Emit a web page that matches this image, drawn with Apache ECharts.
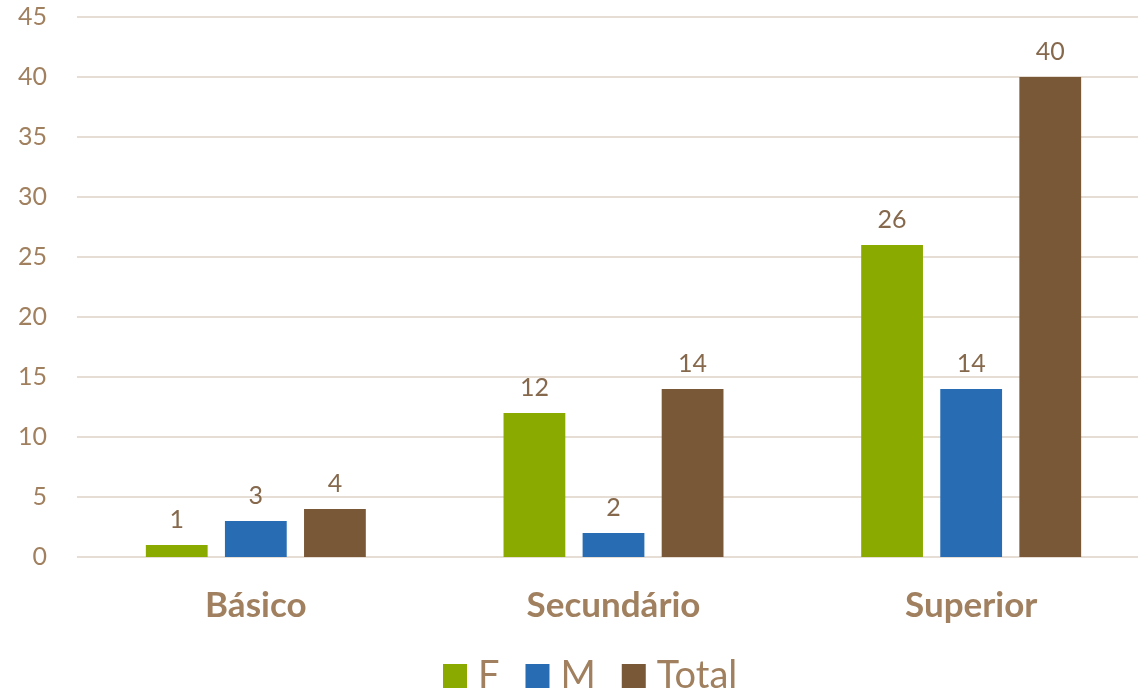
<!DOCTYPE html>
<html><head><meta charset="utf-8">
<script src="https://cdn.jsdelivr.net/npm/echarts@6/dist/echarts.min.js"></script>
<style>html,body{margin:0;padding:0;background:#fff}#c{width:1138px;height:694px}</style>
</head><body><div id="c"></div>
<script>
const categories = ['Básico', 'Secundário', 'Superior'];
const seriesNames = ['F', 'M', 'Total'];
const valuesF = [1, 12, 26];
const valuesM = [3, 2, 14];
const valuesTotal = [4, 14, 40];
const colors = ['#8BAA00', '#286DB3', '#795838'];
const textColor = '#A0805F';
const font = 'Lato, "Open Sans", sans-serif';

const chart = echarts.init(document.getElementById('c'), null, {renderer: 'canvas'});
const data = [valuesF, valuesM, valuesTotal];
chart.setOption({
  animation: false,
  grid: {left: 77, width: 1073, top: 17, bottom: 137, containLabel: false, outerBoundsMode: 'none'},
  legend: {
    top: 652, left: 438, itemWidth: 24, itemHeight: 24, itemGap: 26,
    icon: 'rect',
    textStyle: {color: textColor, fontSize: 38, fontFamily: font, padding: [0, 0, 12, 6]},
    data: seriesNames
  },
  xAxis: {
    type: 'category', data: categories,
    axisLine: {show: false}, axisTick: {show: false},
    axisLabel: {color: textColor, fontSize: 35, fontWeight: 'bold', fontFamily: font, margin: 31}
  },
  yAxis: {
    type: 'value', min: 0, max: 45, interval: 5,
    axisLine: {show: false}, axisTick: {show: false},
    axisLabel: {color: textColor, fontSize: 25, fontFamily: font, margin: 30},
    splitLine: {lineStyle: {color: '#E6DED5', width: 2}}
  },
  series: seriesNames.map((n, i) => ({
    name: n, type: 'bar', data: data[i],
    barGap: '28%', barCategoryGap: '38.5%',
    itemStyle: {color: colors[i]},
    label: {show: true, position: 'top', distance: 13, color: '#86694D', fontSize: 25, fontFamily: font}
  }))
});
</script></body></html>
